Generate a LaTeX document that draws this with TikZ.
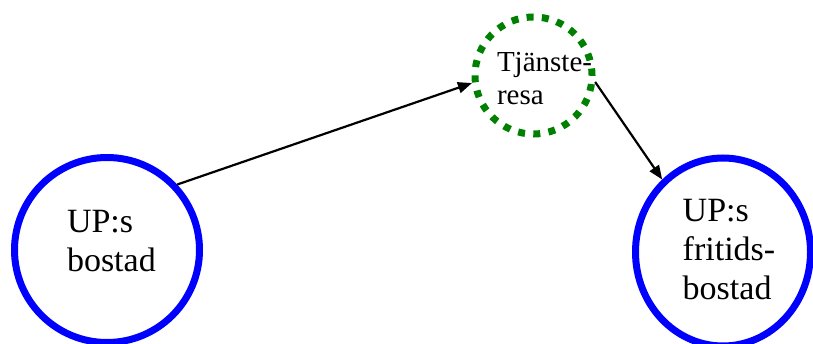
\documentclass[tikz,border=0pt]{standalone}
\usepackage{fontspec}
\setmainfont{Liberation Serif}
\usetikzlibrary{arrows.meta, positioning, shapes.geometric}
\definecolor{CBlue}{HTML}{0000FF}
\definecolor{CGreen}{HTML}{008000}
\tikzset{
    place/.style={ellipse, draw=CBlue, line width=7pt, inner sep=0pt},
    trip/.style={ellipse, draw=CGreen, line width=7pt, dash pattern=on 7pt off 8.3pt, inner sep=0pt},
    bigtext/.style={align=left, inner sep=0pt, font=\fontsize{34}{39}\selectfont},
    smalltext/.style={align=left, inner sep=0pt, font=\fontsize{29}{33}\selectfont},
    route/.style={-{Triangle[length=14pt, width=11pt]}, line width=2.2pt, black}
}

\begin{document}
\begin{tikzpicture}[x=1pt, y=1pt]
    \clip (0,0) rectangle (813,343);

    % Home - Left
    \node[place, minimum width=185pt, minimum height=185pt] (bostad) at (107,93) {};
    \node[bigtext] (bostadtext) at ([shift={(4.4,9)}]bostad.center) {UP:s\\bostad};

    % Business trip - Top
    \node[trip, minimum width=117pt, minimum height=117pt] (resa) at (533.5,267.5) {};
    \node[smalltext] (resatext) at ([shift={(11,-3.5)}]resa.center) {Tjänste-\\resa};

    % Holiday home - Right
    \node[place, minimum width=175pt, minimum height=188pt] (fritid) at (723,91) {};
    \node[bigtext] (fritidtext) at ([shift={(6,2)}]fritid.center) {UP:s\\fritids-\\bostad};

    % Routes
    \draw[route] (bostad.43) -- (resa.187);
    \draw[route] (resa.354) -- (fritid.130);
\end{tikzpicture}
\end{document}
